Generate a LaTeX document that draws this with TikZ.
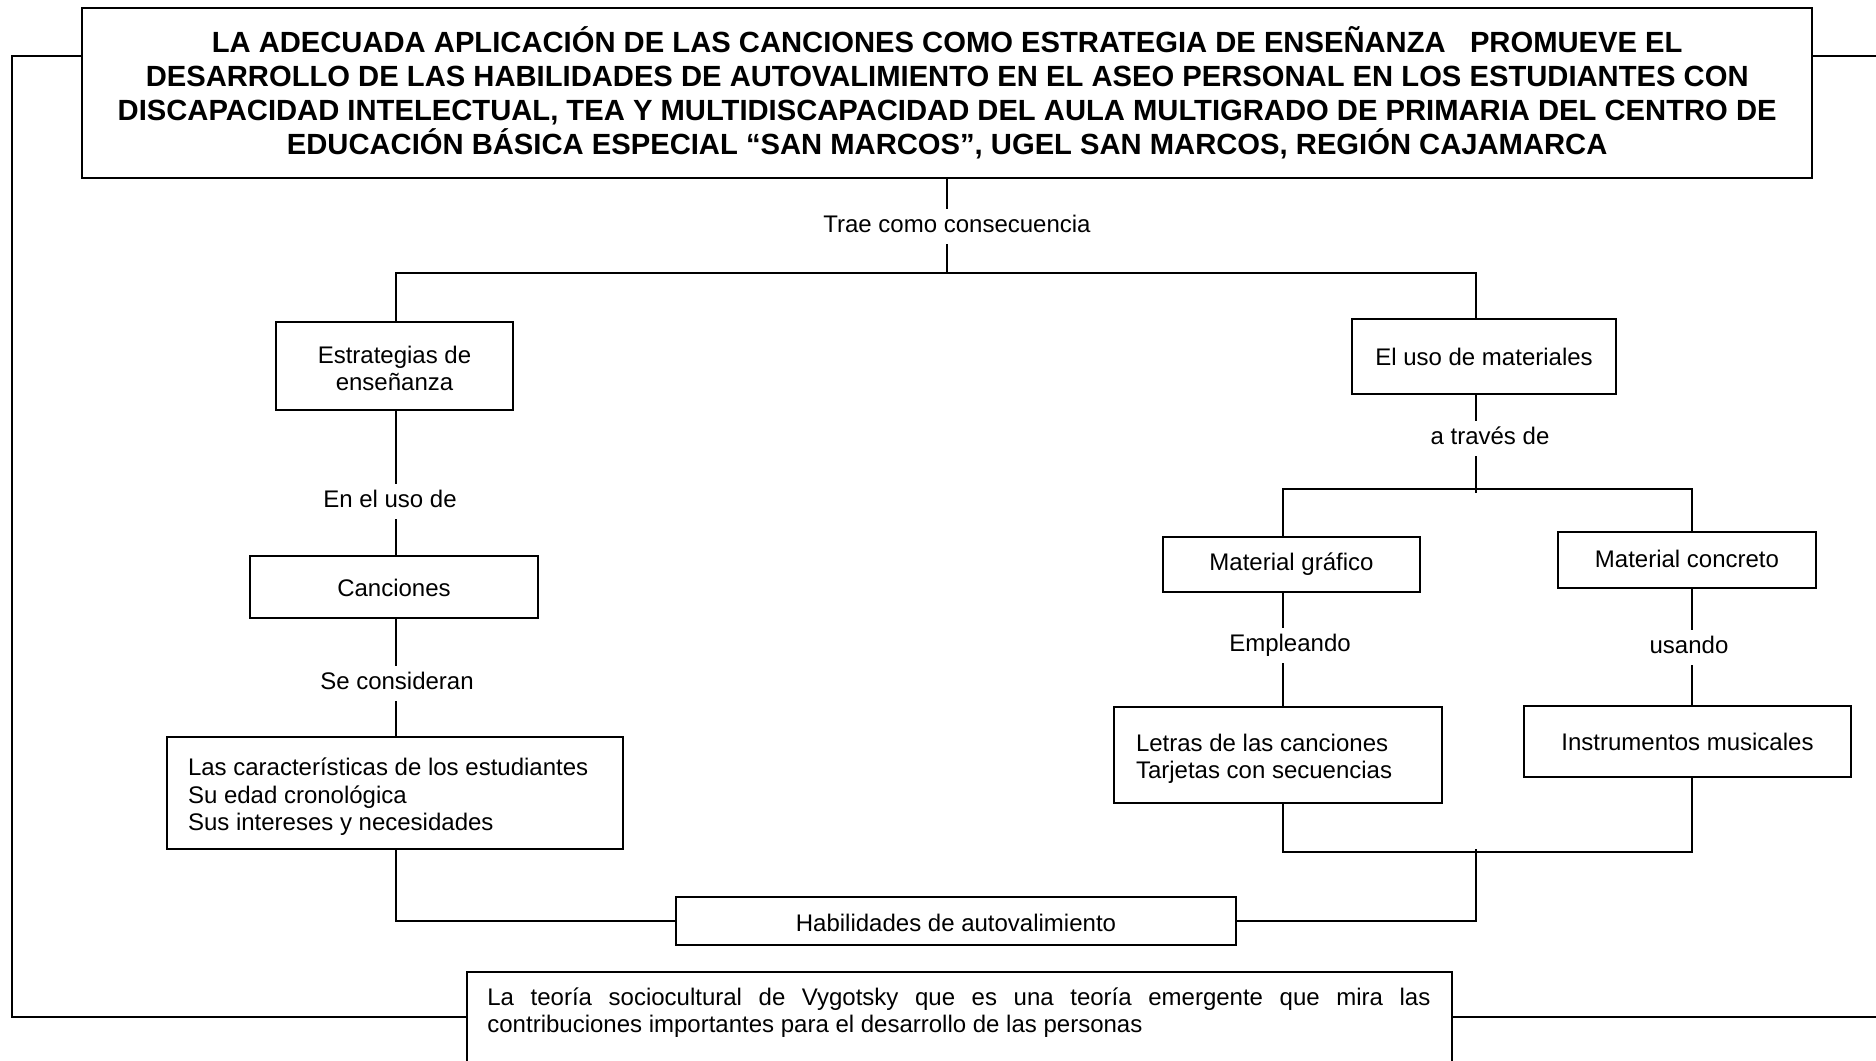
\documentclass[tikz,border=0pt]{standalone}
\usepackage{fontspec}
\setmainfont{Liberation Sans}
\newcommand{\bodyfont}{\fontsize{12}{13.8}\selectfont}
\newcommand{\titlefont}{\bfseries\fontsize{14.6}{16.95}\selectfont}
\begin{document}
\begin{tikzpicture}[x=0.5pt,y=-0.5pt,
  box/.style={draw, line width=1pt, inner sep=0pt, font=\bodyfont, align=center},
  sbox/.style={box, text height=8.6pt, text depth=0pt},
  lbl/.style={fill=white, inner xsep=2pt, inner ysep=3.2pt, font=\bodyfont, text height=8.6pt, text depth=2.5pt},
  conn/.style={line width=1pt}]
\useasboundingbox (0,0) rectangle (1876,1061);
\clip (0,0) rectangle (1876,1061);

% header
\node[box, font=\titlefont, minimum width=864.75pt, minimum height=85pt] (head) at (947.2,93)
 {LA ADECUADA APLICACIÓN DE LAS CANCIONES COMO ESTRATEGIA DE ENSEÑANZA\ \ \ PROMUEVE EL\\
  DESARROLLO DE LAS HABILIDADES DE AUTOVALIMIENTO EN EL ASEO PERSONAL EN LOS ESTUDIANTES CON\\
  DISCAPACIDAD INTELECTUAL, TEA Y MULTIDISCAPACIDAD DEL AULA MULTIGRADO DE PRIMARIA DEL CENTRO DE\\
  EDUCACIÓN BÁSICA ESPECIAL “SAN MARCOS”, UGEL SAN MARCOS, REGIÓN CAJAMARCA};

% left branch
\node[box, minimum width=118.5pt, minimum height=44pt] (est) at (394.5,366)
 {\raisebox{-1.2pt}[\height][\depth]{\parbox{110pt}{\centering Estrategias de\\enseñanza}}};
\node[sbox, minimum width=144pt, minimum height=31pt] (can) at (394,587) {\raisebox{-0.6pt}{Canciones}};
\node[box, minimum width=228pt, minimum height=56pt] (car) at (395,793)
 {\raisebox{-2pt}[\height][\depth]{\parbox{207pt}{Las características de los estudiantes\\Su edad cronológica\\Sus intereses y necesidades}}};
\node[sbox, minimum width=280pt, minimum height=24pt] (hab) at (956,921) {\raisebox{-1pt}{Habilidades de autovalimiento}};

% right branch
\node[sbox, minimum width=132pt, minimum height=37.5pt] (uso) at (1484,356) {\raisebox{-0.5pt}{El uso de materiales}};
\node[sbox, minimum width=128.5pt, minimum height=27.5pt] (gra) at (1291.5,564.5) {\raisebox{1.2pt}{Material gráfico}};
\node[box, minimum width=164pt, minimum height=48pt] (let) at (1278,755)
 {\raisebox{-1.8pt}[\height][\depth]{\parbox{142pt}{Letras de las canciones\\Tarjetas con secuencias}}};
\node[sbox, minimum width=129pt, minimum height=28pt] (con) at (1687,560) {\raisebox{0.5pt}{Material concreto}};
\node[sbox, minimum width=163.5pt, minimum height=35.5pt] (ins) at (1687.5,741.5) {Instrumentos musicales};

% bottom theory box
\node[box, anchor=north west, minimum width=492.5pt, minimum height=80pt] (vyg) at (466,971) {};
\node[anchor=base west, inner sep=0pt, font=\bodyfont] (vygt) at (487,1005)
 {\parbox[t]{471.5pt}{\makebox[\linewidth][s]{La teoría sociocultural de Vygotsky que es una teoría emergente que mira las}\\
 contribuciones importantes para el desarrollo de las personas}};

% junction coordinates
\coordinate (jl) at (395.5,273);
\coordinate (jr) at (1476,273);
\coordinate (jm) at (1476,493);
\coordinate (jg) at (1283,489);
\coordinate (jc) at (1692,489);
\coordinate (kb) at (1283,852);
\coordinate (kc) at (1692,852);
\coordinate (jb) at (1476,849);
\coordinate (ol1) at (12,56);
\coordinate (ol2) at (12,1017);
\coordinate (or1) at (1876,56);
\coordinate (or2) at (1876,1017);

% connectors
\draw[conn] (head.south) -- (head.south |- jl);
\draw[conn] (est.north -| jl) -- (jl) -- (jr) -- (uso.north -| jr);
\draw[conn] (est.south -| jl) -- (can.north -| jl);
\draw[conn] (can.south -| jl) -- (car.north -| jl);
\draw[conn] (car.south -| jl) |- (hab.west);
\draw[conn] (hab.east) -| (jb);
\draw[conn] (uso.south -| jr) -- (jm);
\draw[conn] (gra.north -| jg) -- (jg) -- (jc) -- (con.north -| jc);
\draw[conn] (gra.south -| jg) -- (let.north -| jg);
\draw[conn] (con.south -| jc) -- (ins.north -| jc);
\draw[conn] (let.south -| jg) -- (kb) -- (kc) -- (ins.south -| jc);
\draw[conn] (vyg.west |- ol2) -- (ol2) -- (ol1) -- (head.west |- ol1);
\draw[conn] (head.east |- or1) -- (or1);
\draw[conn] (vyg.east |- or2) -- (or2);

% connector labels
\node[lbl] (l1) at (957,226.5) {Trae como consecuencia};
\node[lbl] (l2) at (390,501.5) {En el uso de};
\node[lbl] (l3) at (397,683.5) {Se consideran};
\node[lbl] (l4) at (1490,438.5) {a través de};
\node[lbl] (l5) at (1290,645.5) {Empleando};
\node[lbl] (l6) at (1689,647.5) {usando};
\end{tikzpicture}
\end{document}
